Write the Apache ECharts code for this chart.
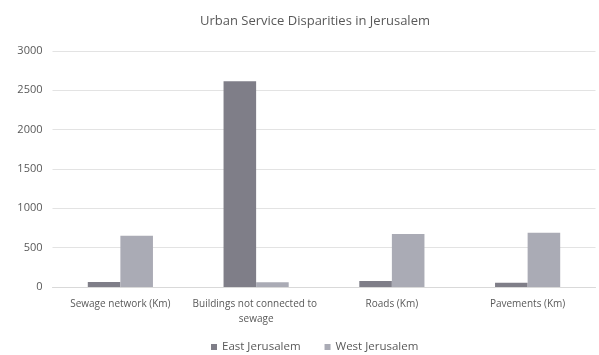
<!DOCTYPE html>
<html>
<head>
<meta charset="utf-8">
<script src="https://cdn.jsdelivr.net/npm/echarts@6/dist/echarts.min.js"></script>
<style>
  html, body { margin: 0; padding: 0; background: #fff; }
  #chart { width: 599px; height: 355px; }
</style>
</head>
<body>
<div id="chart"></div>
<script>
// Service indicators compared between the two halves of the city
const categories = [
  'Sewage network (Km)',
  'Buildings not connected to sewage',
  'Roads (Km)',
  'Pavements (Km)'
];
const seriesNames = ['East Jerusalem', 'West Jerusalem'];
const eastValues = [65, 2615, 75, 55];
const westValues = [650, 60, 675, 690];
const yTicks = { min: 0, max: 3000, interval: 500 };

const FONT = '"Open Sans", Lato, sans-serif';
const TEXT = '#595959';

const chart = echarts.init(document.getElementById('chart'), null, { renderer: 'canvas' });
chart.setOption({
  animation: false,
  backgroundColor: '#ffffff',
  title: {
    text: 'Urban Service Disparities in Jerusalem',
    left: 310,
    top: 10,
    textAlign: 'center',
    textStyle: { fontFamily: FONT, fontSize: 13, fontWeight: 'normal', color: TEXT }
  },
  legend: {
    data: seriesNames,
    left: 206,
    bottom: -3,
    icon: 'rect',
    itemWidth: 6,
    itemHeight: 6,
    itemGap: 24,
    textStyle: { fontFamily: FONT, fontSize: 11.5, color: TEXT }
  },
  grid: { left: 52.5, right: -9.5, top: 51, bottom: 68, containLabel: false },
  xAxis: {
    type: 'category',
    data: categories,
    axisLine: { show: true, lineStyle: { color: '#d9d9d9' } },
    axisTick: { show: false },
    axisLabel: {
      interval: 0,
      fontFamily: FONT,
      fontSize: 10,
      color: TEXT,
      margin: 10,
      width: 140,
      overflow: 'break',
      lineHeight: 15
    }
  },
  yAxis: {
    type: 'value',
    min: yTicks.min,
    max: yTicks.max,
    interval: yTicks.interval,
    axisLine: { show: false },
    axisTick: { show: false },
    splitLine: { lineStyle: { color: '#e3e3e3', width: 1 } },
    axisLabel: {
      fontFamily: FONT, fontSize: 11, color: TEXT, margin: 10,
      formatter: (v) => String(v)
    }
  },
  series: [
    {
      name: seriesNames[0],
      type: 'bar',
      data: eastValues,
      barGap: '0%',
      barCategoryGap: '52%',
      itemStyle: { color: '#7f7e88' }
    },
    {
      name: seriesNames[1],
      type: 'bar',
      data: westValues,
      itemStyle: { color: '#aaabb5' }
    }
  ]
});
</script>
</body>
</html>
